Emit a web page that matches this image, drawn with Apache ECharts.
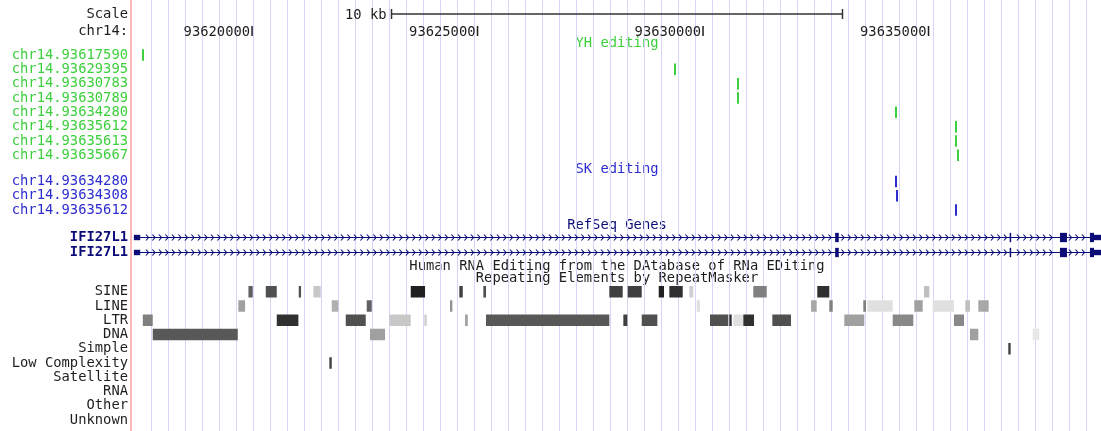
<!DOCTYPE html>
<html>
<head>
<meta charset="utf-8">
<script src="https://cdn.jsdelivr.net/npm/echarts@6/dist/echarts.min.js"></script>
<style>
  html, body { margin: 0; padding: 0; background: #ffffff; }
  #chart { width: 1101px; height: 431px; }
</style>
</head>
<body>
<div id="chart"></div>
<script>
// ---- Genome window (chr14, base pairs) ----
const chrom = 'chr14';
const viewStart = 93617360;
const viewEnd = 93638825;
const chrTicks = [93620000, 93625000, 93630000, 93635000];
const scaleBarSpan = 10000;
const scaleBarLabel = '10 kb';

// ---- RNA editing sites ----
const yhSites = [93617590, 93629395, 93630783, 93630789, 93634280, 93635612, 93635613, 93635667];
const skSites = [93634280, 93634308, 93635612];

// ---- RefSeq gene IFI27L1 (two transcripts, same structure) ----
const geneNames = ['IFI27L1', 'IFI27L1'];
const geneExonStarts = [93617380, 93632930, 93636800, 93637915, 93638580];
const geneExonEnds   = [93617520, 93633010, 93636830, 93638070, 93638900];
const geneCdsStart = 93632930;
const geneCdsEnd = 93638670;

// ---- RepeatMasker elements: [start, end, score 0..1000] ----
const repeatClasses = ['SINE', 'LINE', 'LTR', 'DNA', 'Simple', 'Low Complexity', 'Satellite', 'RNA', 'Other', 'Unknown'];
const sineElements = [
  [93619920, 93620015, 692], [93620304, 93620548, 769], [93621035, 93621086, 769],
  [93621359, 93621523, 192], [93623519, 93623836, 1000], [93624596, 93624672, 846],
  [93625129, 93625188, 769], [93627922, 93628219, 846], [93628330, 93628641, 846],
  [93629018, 93629135, 1000], [93629253, 93629550, 923], [93629696, 93629785, 154],
  [93631115, 93631412, 538], [93632534, 93632800, 923], [93634900, 93635018, 231]
];
const lineElements = [
  [93619696, 93619845, 385], [93621767, 93621913, 308], [93622543, 93622654, 692],
  [93624390, 93624441, 462], [93629860, 93629934, 77], [93632395, 93632521, 346],
  [93632800, 93632876, 538], [93633554, 93633614, 538], [93633643, 93634206, 77],
  [93634685, 93634871, 385], [93635093, 93635565, 77], [93635816, 93635920, 231],
  [93636104, 93636334, 346]
];
const ltrElements = [
  [93617577, 93617798, 538], [93620548, 93621027, 923], [93622078, 93622521, 769],
  [93623044, 93623519, 192], [93623820, 93623874, 154], [93624723, 93624783, 385],
  [93625188, 93627922, 731], [93628233, 93628322, 846], [93628641, 93628987, 769],
  [93630155, 93630561, 769], [93630583, 93630636, 923], [93630672, 93630894, 77],
  [93630894, 93631131, 923], [93631537, 93631951, 769], [93633133, 93633576, 385],
  [93634206, 93634663, 500], [93635565, 93635787, 500]
];
const dnaElements = [
  [93617798, 93619683, 731], [93622616, 93622949, 385],
  [93635920, 93636104, 385], [93637310, 93637457, 38]
];
const simpleElements = [[93636769, 93636822, 846]];
const lowComplexityElements = [[93621714, 93621767, 846]];
const satelliteElements = [];
const rnaElements = [];
const otherElements = [];
const unknownElements = [];

// ---- Styling ----
const FONT_FAMILY = '"DejaVu Sans Mono", "Liberation Mono", monospace';
const FONT = '13.8px ' + FONT_FAMILY;
const GREEN = '#3cd03c';
const BLUE = '#2c2cd0';
const NAVY = '#0c0c78';
const INK = '#1e1e1e';
const TRACK_LEFT = 133;
const TRACK_CENTER_X = TRACK_LEFT + (1101 - TRACK_LEFT) / 2;

const repeatData = [];
[sineElements, lineElements, ltrElements, dnaElements, simpleElements, lowComplexityElements,
 satelliteElements, rnaElements, otherElements, unknownElements].forEach(function (list, row) {
  list.forEach(function (e) { repeatData.push([e[0], e[1], row, e[2]]); });
});

function shadeColor(score) {
  const g = Math.round(240 - score * 0.208);
  return 'rgb(' + g + ',' + g + ',' + g + ')';
}

function labelAxis(gridIndex, labels, color, weight) {
  return {
    gridIndex: gridIndex, type: 'category', data: labels, inverse: true,
    axisLine: { show: false }, axisTick: { show: false }, splitLine: { show: false },
    axisLabel: { interval: 0, margin: 5, color: color, fontFamily: FONT_FAMILY, fontSize: 13.8, fontWeight: weight || 'normal' }
  };
}
function bpAxis(gridIndex) {
  return { gridIndex: gridIndex, type: 'value', min: viewStart, max: viewEnd, show: false };
}

function siteItem(color) {
  return function (params, api) {
    const p = api.coord([api.value(0), api.value(1)]);
    const h = api.size([0, 1])[1] * 0.8;
    return { type: 'rect', shape: { x: Math.floor(p[0]) - 1, y: p[1] - h / 2, width: 2, height: h }, style: { fill: color } };
  };
}

function repeatItem(params, api) {
  const s = api.coord([api.value(0), api.value(2)]);
  const e = api.coord([api.value(1), api.value(2)]);
  const h = api.size([0, 1])[1] * 0.8;
  return {
    type: 'rect',
    shape: { x: s[0], y: s[1] - h / 2, width: Math.max(e[0] - s[0], 1.5), height: h },
    style: { fill: shadeColor(api.value(3)) }
  };
}

function geneItem(params, api) {
  const cs = params.coordSys;
  const row = api.value(1);
  const cy = api.coord([viewStart, row])[1];
  const band = api.size([0, 1])[1];
  const tall = band * 0.62, thin = band * 0.36;
  const txStart = geneExonStarts[0], txEnd = geneExonEnds[geneExonEnds.length - 1];
  const x0 = Math.max(api.coord([txStart, row])[0], cs.x);
  const x1 = Math.min(api.coord([txEnd, row])[0], cs.x + cs.width);
  const children = [{ type: 'line', shape: { x1: x0, y1: cy, x2: x1, y2: cy }, style: { stroke: NAVY, lineWidth: 1.2 } }];
  const exPx = geneExonStarts.map(function (s, i) {
    return [api.coord([s, row])[0], api.coord([geneExonEnds[i], row])[0]];
  });
  // strand arrows along the introns
  for (let x = x0 + 7; x < x1 - 3; x += 6.5) {
    const inExon = exPx.some(function (r) { return x > r[0] - 3 && x < r[1] + 3; });
    if (inExon) continue;
    children.push({ type: 'polyline', shape: { points: [[x - 1.5, cy - 3], [x + 1.2, cy], [x - 1.5, cy + 3]] },
      style: { stroke: NAVY, lineWidth: 1.1, fill: null } });
  }
  geneExonStarts.forEach(function (s, i) {
    const e = geneExonEnds[i];
    const parts = [];
    if (s < geneCdsStart) parts.push([s, Math.min(e, geneCdsStart), thin]);
    if (e > geneCdsStart && s < geneCdsEnd) parts.push([Math.max(s, geneCdsStart), Math.min(e, geneCdsEnd), tall]);
    if (e > geneCdsEnd) parts.push([Math.max(s, geneCdsEnd), e, thin]);
    parts.forEach(function (pt) {
      const a = api.coord([pt[0], row])[0], b = api.coord([pt[1], row])[0];
      children.push({ type: 'rect', shape: { x: a, y: cy - pt[2] / 2, width: Math.max(b - a, 1.5), height: pt[2] }, style: { fill: NAVY } });
    });
  });
  return { type: 'group', children: children };
}

function chrTickItem(params, api) {
  const p = api.coord([api.value(0), api.value(1)]);
  return {
    type: 'group', children: [
      { type: 'rect', shape: { x: p[0] - 0.75, y: p[1] - 5, width: 1.5, height: 10 }, style: { fill: INK } },
      { type: 'text', x: p[0] - 2, y: p[1] + 1, style: { text: String(api.value(0)), align: 'right', verticalAlign: 'middle', font: FONT, fill: INK } }
    ]
  };
}

function scaleBarItem(params, api) {
  const s = api.coord([api.value(0), api.value(2)]);
  const e = api.coord([api.value(1), api.value(2)]);
  return {
    type: 'group', children: [
      { type: 'rect', shape: { x: s[0], y: s[1] - 0.75, width: e[0] - s[0], height: 1.5 }, style: { fill: '#333' } },
      { type: 'rect', shape: { x: s[0] - 0.75, y: s[1] - 5, width: 1.5, height: 10 }, style: { fill: '#333' } },
      { type: 'rect', shape: { x: e[0] - 0.75, y: e[1] - 5, width: 1.5, height: 10 }, style: { fill: '#333' } },
      { type: 'text', x: s[0] - 5, y: s[1] + 1, style: { text: scaleBarLabel, align: 'right', verticalAlign: 'middle', font: FONT, fill: INK } }
    ]
  };
}

function trackTitle(text, y, color) {
  return { type: 'text', x: TRACK_CENTER_X, y: y, style: { text: text, align: 'center', verticalAlign: 'middle', font: FONT, fill: color } };
}

const viewMid = (viewStart + viewEnd) / 2;

const option = {
  animation: false,
  backgroundColor: '#ffffff',
  grid: [
    { left: 134, top: 0, width: 952, height: 431 },           // guide lines
    { left: TRACK_LEFT, right: 0, top: 5.5, height: 34 },      // scale + chromosome ruler
    { left: TRACK_LEFT, right: 0, top: 47.8, height: 114.7 },  // YH editing
    { left: TRACK_LEFT, right: 0, top: 174.4, height: 42.8 },  // SK editing
    { left: TRACK_LEFT, right: 0, top: 230, height: 30 },      // RefSeq genes
    { left: TRACK_LEFT, right: 0, top: 284.6, height: 142.6 }, // RepeatMasker
    { left: 131, top: 0, width: 1, height: 431 }               // label divider
  ],
  xAxis: [
    { gridIndex: 0, type: 'value', min: 0, max: 56, interval: 1,
      axisLine: { show: false }, axisTick: { show: false }, axisLabel: { show: false },
      splitLine: { show: true, showMinLine: false, lineStyle: { color: '#d6d6fb', width: 1 } } },
    bpAxis(1), bpAxis(2), bpAxis(3), bpAxis(4), bpAxis(5),
    { gridIndex: 6, type: 'value', min: 0, max: 1, show: false }
  ],
  yAxis: [
    { gridIndex: 0, type: 'value', show: false, min: 0, max: 1 },
    labelAxis(1, ['Scale', chrom + ':'], INK),
    labelAxis(2, yhSites.map(function (p) { return chrom + '.' + p; }), GREEN),
    labelAxis(3, skSites.map(function (p) { return chrom + '.' + p; }), BLUE),
    labelAxis(4, geneNames, NAVY, 'bold'),
    labelAxis(5, repeatClasses, INK),
    { gridIndex: 6, type: 'value', min: 0, max: 1, axisLabel: { show: false }, axisTick: { show: false }, splitLine: { show: false },
      axisLine: { show: true, onZero: false, lineStyle: { color: '#ffb8b8', width: 2 } } }
  ],
  graphic: [
    trackTitle('YH editing', 43.5, GREEN),
    trackTitle('SK editing', 169.3, BLUE),
    trackTitle('RefSeq Genes', 225, NAVY),
    trackTitle('Human RNA Editing from the DAtabase of RNa EDiting', 266, INK),
    trackTitle('Repeating Elements by RepeatMasker', 278.3, INK)
  ],
  series: [
    { type: 'custom', xAxisIndex: 1, yAxisIndex: 1, renderItem: scaleBarItem, encode: { x: [0, 1], y: 2 },
      data: [[viewMid - scaleBarSpan / 2, viewMid + scaleBarSpan / 2, 0]], silent: true },
    { type: 'custom', xAxisIndex: 1, yAxisIndex: 1, renderItem: chrTickItem, encode: { x: 0, y: 1 },
      data: chrTicks.map(function (t) { return [t, 1]; }), silent: true },
    { type: 'custom', xAxisIndex: 2, yAxisIndex: 2, renderItem: siteItem(GREEN), encode: { x: 0, y: 1 },
      data: yhSites.map(function (p, i) { return [p, i]; }), clip: true },
    { type: 'custom', xAxisIndex: 3, yAxisIndex: 3, renderItem: siteItem(BLUE), encode: { x: 0, y: 1 },
      data: skSites.map(function (p, i) { return [p, i]; }), clip: true },
    { type: 'custom', xAxisIndex: 4, yAxisIndex: 4, renderItem: geneItem, encode: { x: 0, y: 1 },
      data: geneNames.map(function (n, i) { return [geneExonStarts[0], i]; }), clip: true },
    { type: 'custom', xAxisIndex: 5, yAxisIndex: 5, renderItem: repeatItem, encode: { x: [0, 1], y: 2 },
      data: repeatData, clip: true }
  ]
};

const chart = echarts.init(document.getElementById('chart'), null, { renderer: 'canvas' });
chart.setOption(option);
</script>
</body>
</html>
